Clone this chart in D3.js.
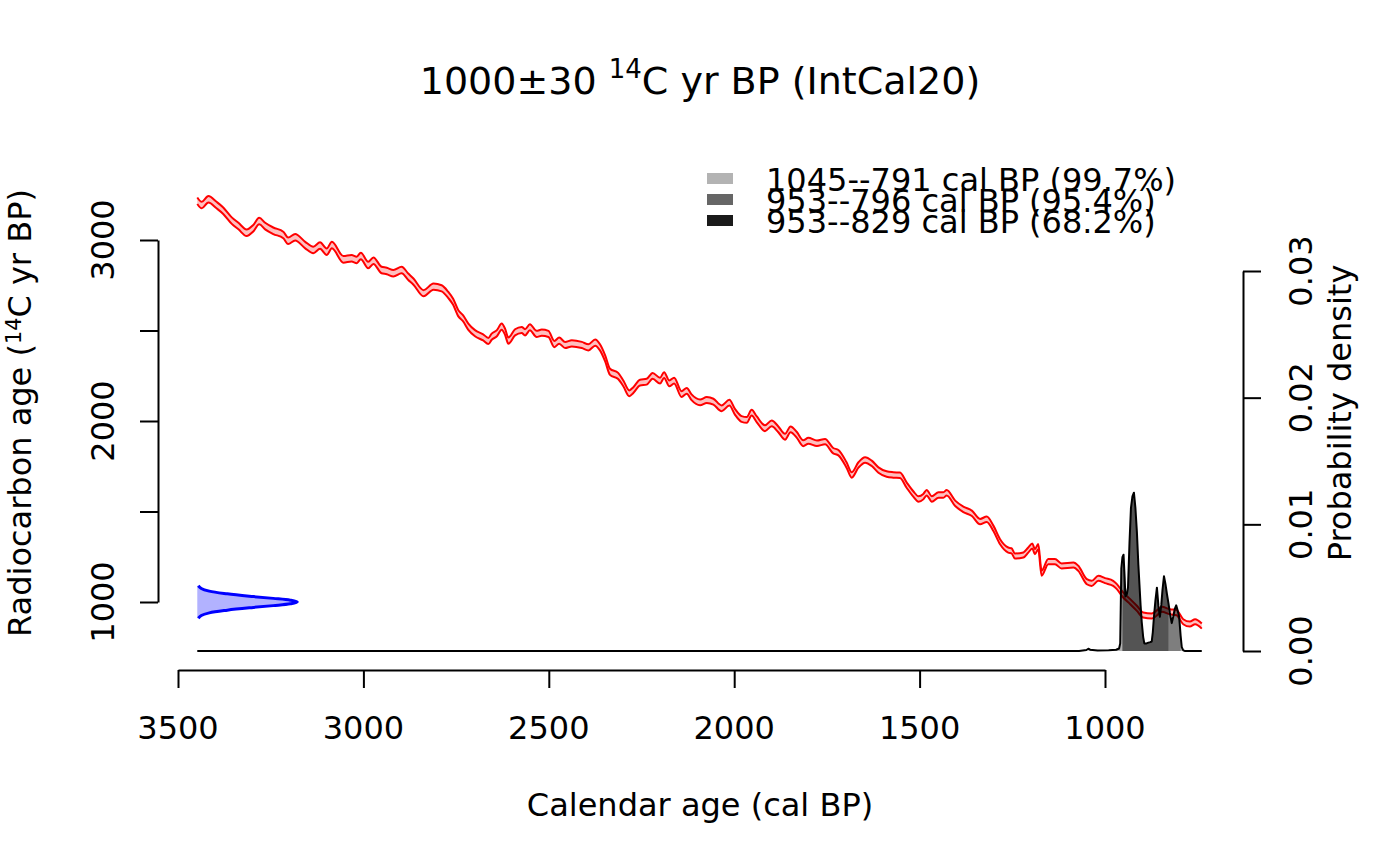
<!DOCTYPE html>
<html>
<head>
<meta charset="utf-8">
<script src="https://cdn.jsdelivr.net/npm/d3@7"></script>
<style>
  body { margin: 0; background: #fff; }
  text { font-family: "DejaVu Sans", sans-serif; fill: #000; }
</style>
</head>
<body>
<svg id="chart" width="1400" height="866"></svg>
<script>

// ---- data ----

// calibration curve (IntCal20), cal BP / 14C age / 1 sigma
var calBP = [3448,3436,3418,3396,3378,3355,3337,3315,3297,3281,3265,3243,3216,3203,3184,3157,3135,3117,3099,3085,3054,3032,3018,3007,2987,2973,2951,2937,2919,2897,2879,
  2865,2838,2811,2789,2771,2758,2744,2731,2717,2699,2677,2663,2654,2640,2627,2618,2609,2591,2573,2564,2551,2533,2519,2501,2485,2472,2456,2438,2411,2393,2375,2362,2348,2335,2313,
  2299,2283,2272,2254,2236,2220,2200,2189,2175,2162,2142,2128,2115,2092,2074,2056,2034,2013,1998,1980,1966,1953,1939,1917,1899,1881,1863,1848,1831,1814,1800,
  1777,1755,1733,1719,1697,1683,1665,1647,1629,1611,1589,1571,1553,1535,1517,1503,1490,1481,1467,1449,1436,1427,1404,1382,1359,1337,1319,1301,
  1283,1261,1252,1243,1220,1207,1196,1189,1180,1171,1153,1135,1117,1085,1072,1049,1036,1018,1000,978,968,951,932,914,897,874,861,847,825,807,789,771,757,739];
var c14Age = [3217,3193,3225,3193,3162,3107,3077,3040,3065,3105,3077,3051,3028,2996,3015,2972,2945,2969,2935,2972,2893,2899,2890,2912,2862,2886,2834,2829,2816,2834,2797,
  2770,2706,2742,2733,2696,2659,2595,2567,2521,2485,2462,2442,2466,2485,2521,2493,2444,2490,2503,2490,2518,2481,2488,2481,2425,2444,2420,2429,2420,2407,2433,2407,2346,2272,2249,
  2208,2153,2171,2212,2217,2249,2223,2254,2208,2223,2149,2167,2131,2103,2116,2107,2070,2101,2051,2011,2006,2046,2009,1960,1987,1954,1913,1954,1923,1877,1891,
  1877,1886,1836,1825,1757,1702,1757,1785,1766,1729,1707,1702,1700,1646,1597,1569,1582,1604,1569,1591,1591,1604,1545,1512,1490,1444,1457,1407,
  1333,1287,1283,1254,1260,1287,1309,1278,1306,1159,1223,1223,1199,1204,1186,1112,1103,1131,1118,1103,1085,1039,1002,965,928,923,938,960,946,941,891,878,891,867];
var c14Err = [18,18,18,18,18,18,18,18,18,18,18,18,18,18,18,18,18,18,18,18,18,18,18,18,18,18,18,18,18,18,18,
  17,17,17,17,17,17,17,17,17,17,17,17,17,17,17,17,17,17,17,17,17,17,17,17,17,17,17,17,17,17,17,17,17,17,17,
  16,16,16,16,16,16,16,16,16,16,16,16,16,16,16,16,16,16,16,16,16,16,16,16,16,16,16,16,16,16,16,
  15,15,15,15,15,15,15,15,15,15,15,15,15,15,15,15,15,15,15,15,15,15,15,15,15,15,15,15,
  14,14,14,14,14,14,14,14,14,14,14,14,14,14,14,14,14,14,14,14,14,14,14,14,14,14,14,14,14,14,14,14,14,14];

// calibrated probability density
var densCal = [3448,1070,1050,1045,1040,1020,990,970,962,959,956,953,950,947,945,941,938,934,930,926,922,918,914,910,907,904,901,897,894,888,883,878,874,871,868,864,860,856,852,848,845,841,837,833,829,825,820,816,812,808,804,800,796,793,789,784,739];
var densProb = [0,0,0.00008,0.00018,0.0001,0.00004,0.00005,0.0001,0.0002,0.0006,0.0065,0.0074,0.0076,0.0058,0.0043,0.0045,0.0050,0.0085,0.0113,0.0122,0.0125,0.0113,0.0094,0.0068,0.0052,0.0036,0.0023,0.0011,0.0006,0.0006,0.00066,0.0007,0.00075,0.0015,0.0027,0.0040,0.0050,0.0036,0.0027,0.0037,0.0048,0.0059,0.0053,0.0045,0.0038,0.0030,0.0022,0.0027,0.0033,0.0036,0.0032,0.0027,0.0012,0.0003,0.00005,0,0];

// the date itself: 1000 +- 30, offsets and relative heights of its curve
var dateMean = 1000, dateSd = 30;
var dateOffset = [-90,-75,-60,-45,-30,-20,-10,0,10,20,30,45,60,75,90];
var dateHeight = [0.01,0.04,0.12,0.30,0.56,0.76,0.93,1,0.93,0.76,0.56,0.30,0.12,0.04,0.01];

// hpd ranges
var rangeFrom = [1045, 953, 953];
var rangeTo = [791, 796, 829];
var rangeProb = ["99.7%", "95.4%", "68.2%"];

// ticks
var calTicks = [3500,3000,2500,2000,1500,1000];
var c14Ticks = [1000,1500,2000,2500,3000];
var c14Labels = [1000,2000,3000];
var densTicks = [0,0.01,0.02,0.03];

// ---- drawing ----
var svg = d3.select("#chart");
var fontSize = 32;

var x = d3.scaleLinear().domain([3500, 1000]).range([178, 1105]);
var yC14 = d3.scaleLinear().domain([1000, 3000]).range([602, 240]);
var yDens = d3.scaleLinear().domain([0, 0.03]).range([651, 271]);

var cc = calBP.map(function(d, i) { return {cal: d, c14: c14Age[i], err: c14Err[i]}; });
var dens = densCal.map(function(d, i) { return {cal: d, p: densProb[i]}; });

// red calibration band
svg.append("path")
  .datum(cc)
  .attr("fill", "rgba(255,0,0,0.25)")
  .attr("d", d3.area()
    .x(function(d) { return x(d.cal); })
    .y0(function(d) { return yC14(d.c14 - d.err); })
    .y1(function(d) { return yC14(d.c14 + d.err); })
    .curve(d3.curveMonotoneX));

[-1, 1].forEach(function(s) {
  svg.append("path")
    .datum(cc)
    .attr("fill", "none")
    .attr("stroke", "#ff0000")
    .attr("stroke-width", 2)
    .attr("d", d3.line()
      .x(function(d) { return x(d.cal); })
      .y(function(d) { return yC14(d.c14 + s * d.err); })
      .curve(d3.curveMonotoneX));
});

// shaded ranges under the density
function clipRange(pts, hi, lo) {
  function at(c) {
    for (var i = 0; i < pts.length - 1; i++) {
      var a = pts[i], b = pts[i + 1];
      if (a.cal >= c && b.cal <= c) {
        var t = (a.cal - c) / (a.cal - b.cal);
        return {cal: c, p: a.p + (b.p - a.p) * t};
      }
    }
  }
  var out = [at(hi)];
  pts.forEach(function(d) { if (d.cal < hi && d.cal > lo) out.push(d); });
  out.push(at(lo));
  return out;
}

var shadeAlpha = [0.3, 0.29, 0.33];
var densArea = d3.area()
  .x(function(d) { return x(d.cal); })
  .y0(yDens(0))
  .y1(function(d) { return yDens(d.p); });

rangeFrom.forEach(function(f, i) {
  svg.append("path")
    .datum(clipRange(dens, f, rangeTo[i]))
    .attr("fill", "rgba(0,0,0," + shadeAlpha[i] + ")")
    .attr("d", densArea);
});

svg.append("path")
  .datum(dens)
  .attr("fill", "none")
  .attr("stroke", "#000")
  .attr("stroke-width", 2)
  .attr("stroke-linejoin", "round")
  .attr("d", d3.line()
    .x(function(d) { return x(d.cal); })
    .y(function(d) { return yDens(d.p); }));

// blue distribution of the measured date on the 14C axis
var dateBase = x(calBP[0]);
var xDate = d3.scaleLinear().domain([0, 1]).range([dateBase, dateBase + 100]);
var datePts = dateOffset.map(function(o, i) { return {c14: dateMean + o, h: dateHeight[i]}; });

svg.append("path")
  .datum(datePts)
  .attr("fill", "rgba(0,0,255,0.3)")
  .attr("d", d3.area()
    .y(function(d) { return yC14(d.c14); })
    .x0(dateBase)
    .x1(function(d) { return xDate(d.h); })
    .curve(d3.curveCatmullRom));

svg.append("path")
  .datum(datePts)
  .attr("fill", "none")
  .attr("stroke", "#0000ff")
  .attr("stroke-width", 3)
  .attr("d", d3.line()
    .y(function(d) { return yC14(d.c14); })
    .x(function(d) { return xDate(d.h); })
    .curve(d3.curveCatmullRom));

// axes
function styleAxis(g) {
  g.selectAll(".domain").attr("stroke", "#000").attr("stroke-width", 2);
  g.selectAll(".tick line").attr("stroke", "#000").attr("stroke-width", 2);
  g.selectAll(".tick text").remove();
}

svg.append("g")
  .attr("transform", "translate(0,670)")
  .call(d3.axisBottom(x).tickValues(calTicks).tickSize(18).tickSizeOuter(0))
  .call(styleAxis);

svg.append("g")
  .attr("transform", "translate(158,0)")
  .call(d3.axisLeft(yC14).tickValues(c14Ticks).tickSize(18).tickSizeOuter(0))
  .call(styleAxis);

svg.append("g")
  .attr("transform", "translate(1243,0)")
  .call(d3.axisRight(yDens).tickValues(densTicks).tickSize(18).tickSizeOuter(0))
  .call(styleAxis);

svg.selectAll(".calLab")
  .data(calTicks).enter().append("text")
  .attr("x", function(d) { return x(d); })
  .attr("y", 739)
  .attr("text-anchor", "middle")
  .attr("font-size", fontSize)
  .text(function(d) { return d; });

svg.selectAll(".c14Lab")
  .data(c14Labels).enter().append("text")
  .attr("transform", function(d) { return "translate(114," + yC14(d) + ") rotate(-90)"; })
  .attr("text-anchor", "middle")
  .attr("font-size", fontSize)
  .text(function(d) { return d; });

svg.selectAll(".densLab")
  .data(densTicks).enter().append("text")
  .attr("transform", function(d) { return "translate(1312," + yDens(d) + ") rotate(-90)"; })
  .attr("text-anchor", "middle")
  .attr("font-size", fontSize)
  .text(function(d) { return d3.format(".2f")(d); });

// axis titles
svg.append("text")
  .attr("x", 700).attr("y", 816)
  .attr("text-anchor", "middle")
  .attr("font-size", fontSize)
  .text("Calendar age (cal BP)");

var yt = svg.append("text")
  .attr("transform", "translate(31,413) rotate(-90)")
  .attr("text-anchor", "middle")
  .attr("font-size", fontSize);
yt.append("tspan").text("Radiocarbon age (");
yt.append("tspan").attr("dy", -10).attr("font-size", fontSize * 0.65).text("14");
yt.append("tspan").attr("dy", 10).text("C yr BP)");

svg.append("text")
  .attr("transform", "translate(1351,413) rotate(-90)")
  .attr("text-anchor", "middle")
  .attr("font-size", fontSize)
  .text("Probability density");

// title
var title = svg.append("text")
  .attr("x", 700).attr("y", 94)
  .attr("text-anchor", "middle")
  .attr("font-size", 38);
title.append("tspan").text(dateMean + "\u00b1" + dateSd + " ");
title.append("tspan").attr("dy", -16).attr("font-size", 26).text("14");
title.append("tspan").attr("dy", 16).text("C yr BP (IntCal20)");

// legend
var legendFill = ["#b3b3b3", "#666666", "#1a1a1a"];
rangeFrom.forEach(function(f, i) {
  var base = 191 + i * 21;
  svg.append("rect")
    .attr("x", 707).attr("y", base - 18)
    .attr("width", 26).attr("height", 11)
    .attr("fill", legendFill[i]);
  svg.append("text")
    .attr("x", 766).attr("y", base)
    .attr("font-size", fontSize)
    .text(f + "--" + rangeTo[i] + " cal BP (" + rangeProb[i] + ")");
});

</script>
</body>
</html>
